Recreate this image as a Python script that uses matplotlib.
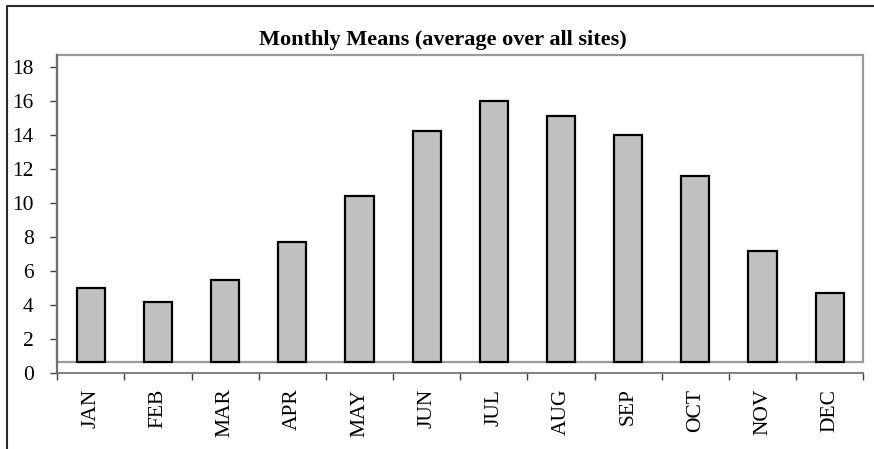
import matplotlib
matplotlib.use('Agg')
import matplotlib.pyplot as plt
import numpy as np
from matplotlib.patches import Rectangle
from matplotlib.lines import Line2D

# --- Data
months = ['JAN', 'FEB', 'MAR', 'APR', 'MAY', 'JUN',
          'JUL', 'AUG', 'SEP', 'OCT', 'NOV', 'DEC']
means = [5.0, 4.2, 5.5, 7.7, 10.4, 14.2, 16.0, 15.1, 14.0, 11.6, 7.2, 4.7]
yticks = [0, 2, 4, 6, 8, 10, 12, 14, 16, 18]

base = 0.66   # bottom of plot area box (bars start here)
ytop = 18.69

plt.rcParams['font.family'] = ['Liberation Serif', 'DejaVu Serif']

fig = plt.figure(figsize=(8.74, 4.49), dpi=100)
W, H = 874., 449.
ax = fig.add_axes([57.3/W, (H-373.3)/H, (863.3-57.3)/W, (373.3-55)/H])

x = np.arange(len(months)) + 0.5
vals = np.array(means)
ax.bar(x, vals-base, bottom=base, width=0.42, color='#c0c0c0',
       edgecolor='black', linewidth=1.6, zorder=3)

# plot area box
ax.add_patch(Rectangle((0, base), 12, ytop-base, fill=False,
                       edgecolor='#9a9a9a', linewidth=1.6, zorder=2, clip_on=False))

ax.set_xlim(0, 12)
ax.set_ylim(0, ytop)
for s in ['top', 'right']:
    ax.spines[s].set_visible(False)
ax.spines['left'].set_color('#707070')
ax.spines['left'].set_linewidth(1.6)
ax.spines['bottom'].set_color('#808080')
ax.spines['bottom'].set_linewidth(1.4)
ax.spines['left'].set_zorder(4)

ax.set_yticks(yticks)
ax.set_yticklabels([str(v) for v in yticks])
ax.set_xticks(np.arange(13))
ax.set_xticklabels([])
ax.set_xticks(x, minor=True)
ax.set_xticklabels(months, minor=True, rotation=90, va='top', ha='center')
ax.tick_params(axis='x', which='major', direction='out', length=5, width=1, color='#404040')
ax.tick_params(axis='x', which='minor', length=0, pad=11, labelsize=15.5)
ax.tick_params(axis='y', direction='out', length=5, width=1, color='#404040',
               pad=12, labelsize=15.5)

fig.text(442.5/W, 1-40/H, 'Monthly Means (average over all sites)',
         ha='center', va='center', fontsize=16, fontweight='bold')

# outer chart frame (left and top edges)
fig.add_artist(Line2D([7/W, 7/W, 1], [0, 1-6/H, 1-6/H], color='#2a2a2a',
                      linewidth=1.5, transform=fig.transFigure))

fig.savefig('out.png', dpi=100)
